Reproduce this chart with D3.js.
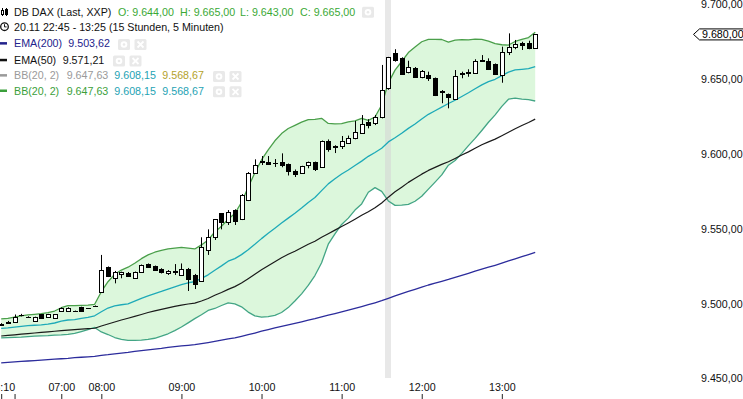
<!doctype html>
<html>
<head>
<meta charset="utf-8">
<script src="https://d3js.org/d3.v7.min.js"></script>
<style>
  body { margin: 0; background: #fff; }
  svg { display: block; }
  text { font-family: "Liberation Sans", Arial, sans-serif; font-size: 10.7px; }
</style>
</head>
<body>
<script>
// bar index of the first candle; 08:00 is bar 0 (5 minute bars)
const firstBar = -15;

const open = [
  9486.0, 9487.0, 9488.0, 9492.3, 9491.3, 9488.4, 9492.9, 9491.1, 9490.6, 9495.1, 9495.1, 9495.2, 9497.8, 9497.0, 9498.4,
  9508.0, 9524.5, 9517.0, 9519.9, 9520.7, 9517.3, 9521.4, 9526.5, 9525.2, 9522.9, 9520.2, 9521.2, 9519.5, 9523.3, 9519.2,
  9515.2, 9536.2, 9544.3, 9560.4, 9554.8, 9562.6, 9556.4, 9569.3, 9587.2, 9594.9, 9594.9, 9594.0, 9594.5, 9593.4, 9588.7,
  9587.2, 9592.4, 9594.4, 9591.2, 9608.8, 9605.7, 9605.7, 9607.6, 9610.6, 9614.3, 9621.7, 9620.6, 9625.0, 9644.0, 9667.4,
  9664.0, 9655.1, 9657.8, 9651.7, 9652.9, 9650.7, 9642.0, 9640.2, 9636.6, 9653.7, 9654.3, 9654.4, 9662.0, 9662.4, 9660.2,
  9652.9, 9668.4, 9671.8, 9674.1, 9674.1, 9670.7];
const high = [
  9487.0, 9488.5, 9492.8, 9493.2, 9491.6, 9491.3, 9493.0, 9493.2, 9493.1, 9497.5, 9497.6, 9495.4, 9498.0, 9497.1, 9498.8,
  9532.6, 9524.9, 9521.9, 9521.4, 9521.2, 9521.5, 9526.2, 9526.9, 9525.5, 9523.7, 9522.5, 9526.5, 9526.9, 9523.9, 9519.9,
  9544.4, 9549.7, 9556.6, 9560.6, 9562.6, 9563.1, 9573.3, 9588.0, 9596.5, 9598.7, 9598.7, 9596.7, 9600.5, 9593.7, 9589.7,
  9592.2, 9595.0, 9595.0, 9609.1, 9609.8, 9605.9, 9612.1, 9612.4, 9622.1, 9626.1, 9623.3, 9626.1, 9659.6, 9665.0, 9670.1,
  9664.7, 9662.4, 9658.2, 9656.2, 9655.1, 9651.2, 9642.8, 9640.5, 9656.2, 9655.1, 9656.7, 9663.4, 9666.2, 9664.0, 9660.6,
  9671.8, 9680.7, 9676.3, 9675.1, 9675.8, 9680.0];
const low = [
  9485.5, 9486.5, 9488.0, 9491.5, 9491.0, 9488.2, 9490.4, 9490.9, 9490.5, 9495.0, 9494.9, 9494.9, 9495.0, 9496.7, 9498.3,
  9507.8, 9517.8, 9513.6, 9517.0, 9518.2, 9517.0, 9521.2, 9524.0, 9522.3, 9520.2, 9519.2, 9519.2, 9518.5, 9508.5, 9509.8,
  9514.7, 9532.6, 9542.6, 9549.7, 9552.6, 9552.6, 9555.9, 9568.6, 9586.7, 9592.7, 9592.7, 9591.4, 9591.2, 9585.7, 9584.7,
  9587.0, 9590.5, 9588.7, 9591.0, 9601.6, 9600.7, 9603.4, 9607.2, 9609.9, 9613.9, 9617.2, 9619.4, 9623.9, 9643.0, 9661.8,
  9652.9, 9654.0, 9650.9, 9650.7, 9648.9, 9638.8, 9634.0, 9630.6, 9636.2, 9650.7, 9651.7, 9654.0, 9661.8, 9656.2, 9652.9,
  9647.7, 9666.2, 9670.1, 9669.6, 9670.1, 9670.6];
const close = [
  9486.5, 9488.0, 9490.8, 9492.5, 9491.2, 9491.1, 9490.6, 9492.9, 9492.9, 9497.3, 9497.3, 9495.0, 9495.1, 9496.8, 9498.6,
  9522.5, 9518.3, 9521.4, 9521.2, 9518.7, 9521.2, 9525.9, 9524.3, 9522.7, 9520.9, 9521.9, 9521.8, 9522.9, 9516.2, 9513.5,
  9538.2, 9544.6, 9556.3, 9554.8, 9561.5, 9555.5, 9572.7, 9587.2, 9592.7, 9595.6, 9593.2, 9593.8, 9592.7, 9588.7, 9586.7,
  9592.0, 9594.4, 9590.0, 9608.8, 9603.4, 9604.7, 9608.8, 9610.6, 9615.0, 9620.1, 9619.4, 9625.1, 9642.8, 9665.0, 9662.9,
  9653.5, 9658.4, 9651.3, 9655.7, 9650.7, 9639.5, 9641.5, 9638.4, 9652.2, 9654.2, 9654.9, 9662.4, 9662.6, 9656.7, 9653.3,
  9668.4, 9671.8, 9673.4, 9673.0, 9670.7, 9680.0];

const bbUpper = [
  9489.8, 9490.2, 9491.1, 9491.8, 9492.5, 9492.9, 9493.3, 9494.0, 9495.1, 9497.3, 9498.7, 9498.7, 9498.9, 9499.1, 9499.6,
  9508.0, 9514.7, 9519.7, 9522.5, 9524.4, 9527.0, 9530.1, 9532.6, 9534.4, 9535.6, 9536.6, 9537.1, 9537.6, 9537.1, 9536.6,
  9539.3, 9542.6, 9548.0, 9551.8, 9556.4, 9560.3, 9567.7, 9577.8, 9587.5, 9596.1, 9602.8, 9608.9, 9613.7, 9617.1, 9619.2,
  9621.4, 9623.1, 9623.2, 9623.9, 9620.5, 9620.2, 9620.4, 9621.6, 9622.2, 9623.9, 9622.5, 9624.8, 9632.8, 9647.63, 9656.1,
  9661.9, 9667.9, 9671.6, 9675.1, 9676.7, 9676.7, 9676.6, 9674.9, 9676.2, 9676.5, 9676.3, 9676.9, 9676.7, 9675.5, 9673.9,
  9673.1, 9672.9, 9675.3, 9676.7, 9677.9, 9681.4];
const bbMiddle = [
  9483.5, 9483.8, 9484.3, 9484.8, 9485.3, 9485.6, 9485.9, 9486.4, 9487.1, 9488.3, 9489.1, 9489.4, 9490.2, 9490.9, 9491.9,
  9494.6, 9497.1, 9498.6, 9499.3, 9499.9, 9501.7, 9503.6, 9505.2, 9506.8, 9508.2, 9509.8, 9511.3, 9512.8, 9514.0, 9514.8,
  9516.9, 9519.3, 9522.4, 9525.3, 9528.4, 9530.1, 9532.8, 9536.1, 9539.7, 9543.5, 9547.1, 9550.5, 9553.9, 9557.2, 9560.5,
  9564.0, 9567.7, 9571.0, 9575.6, 9580.1, 9583.5, 9586.7, 9589.4, 9592.4, 9595.3, 9598.5, 9601.1, 9603.9, 9608.15, 9610.9,
  9613.9, 9617.2, 9620.1, 9623.4, 9626.6, 9629.0, 9631.4, 9633.8, 9636.0, 9638.5, 9641.0, 9643.7, 9646.3, 9648.4, 9650.0,
  9652.5, 9654.8, 9656.3, 9656.7, 9657.1, 9658.5];
const bbLower = [
  9477.1, 9477.3, 9477.5, 9477.7, 9478.0, 9478.3, 9478.5, 9478.7, 9479.0, 9479.2, 9479.5, 9480.1, 9481.4, 9482.7, 9484.1,
  9481.1, 9479.4, 9477.4, 9476.1, 9475.5, 9475.5, 9475.7, 9476.1, 9476.9, 9478.3, 9479.9, 9482.0, 9484.4, 9487.2, 9490.0,
  9492.6, 9495.5, 9496.8, 9498.8, 9500.5, 9499.9, 9497.9, 9494.4, 9491.9, 9491.0, 9491.4, 9492.2, 9494.1, 9497.4, 9501.8,
  9506.6, 9512.2, 9518.8, 9527.4, 9539.8, 9546.7, 9553.0, 9557.2, 9562.6, 9566.7, 9574.5, 9577.6, 9575.1, 9568.67, 9565.7,
  9565.9, 9566.4, 9568.5, 9571.8, 9576.6, 9581.3, 9586.1, 9592.6, 9595.7, 9600.5, 9605.7, 9610.5, 9615.8, 9621.3, 9626.2,
  9631.9, 9636.7, 9637.4, 9636.8, 9636.4, 9635.5];
const ema50 = [
  9478.4, 9478.8, 9479.2, 9479.6, 9480.0, 9480.4, 9480.8, 9481.2, 9481.6, 9482.0, 9482.4, 9482.7, 9483.0, 9483.3, 9483.6,
  9485.1, 9486.4, 9487.8, 9489.1, 9490.3, 9491.5, 9492.8, 9494.1, 9495.2, 9496.2, 9497.2, 9498.2, 9499.1, 9499.8, 9500.4,
  9501.8, 9503.5, 9505.6, 9507.5, 9509.6, 9511.4, 9513.8, 9516.7, 9519.7, 9522.7, 9525.4, 9528.1, 9530.7, 9533.0, 9535.1,
  9537.4, 9539.7, 9541.7, 9544.4, 9546.8, 9549.2, 9551.6, 9554.0, 9556.5, 9559.1, 9561.5, 9564.1, 9567.3, 9571.21, 9574.8,
  9577.9, 9581.1, 9583.8, 9586.6, 9589.1, 9591.1, 9593.1, 9594.9, 9597.1, 9599.4, 9601.5, 9603.9, 9606.2, 9608.2, 9610.0,
  9612.3, 9614.6, 9616.9, 9619.1, 9621.1, 9623.4];
const ema200 = [
  9460.5, 9460.8, 9461.1, 9461.4, 9461.7, 9462.0, 9462.3, 9462.6, 9462.9, 9463.2, 9463.5, 9463.9, 9464.2, 9464.5, 9464.8,
  9465.4, 9465.9, 9466.5, 9467.0, 9467.5, 9468.1, 9468.7, 9469.2, 9469.7, 9470.2, 9470.8, 9471.3, 9471.8, 9472.2, 9472.6,
  9473.3, 9474.0, 9474.8, 9475.6, 9476.5, 9477.2, 9478.2, 9479.3, 9480.4, 9481.6, 9482.7, 9483.8, 9484.9, 9485.9, 9486.9,
  9487.9, 9489.0, 9490.0, 9491.2, 9492.3, 9493.4, 9494.6, 9495.7, 9496.9, 9498.1, 9499.3, 9500.6, 9502.0, 9503.62, 9505.2,
  9506.7, 9508.2, 9509.6, 9511.1, 9512.5, 9513.7, 9515.0, 9516.2, 9517.6, 9518.9, 9520.3, 9521.7, 9523.1, 9524.4, 9525.7,
  9527.1, 9528.6, 9530.0, 9531.4, 9532.8, 9534.3];

const tickBars = [-15, -13, -6, 0, 12, 24, 36, 48, 60];
const tickLabels = ["06:10", "", "07:00", "08:00", "09:00", "10:00", "11:00", "12:00", "13:00"];
const yTicks = [9450, 9500, 9550, 9600, 9650, 9700];
const hoverBar = 43;     // bar under the cursor, shown in the legend
const lastPrice = 9680;

const W = 743, H = 399;
const x = d3.scaleLinear().domain([firstBar, firstBar + open.length - 1]).range([1.2, 535.2]);
const y = d3.scaleLinear().domain([9450, 9700]).range([378.5, 4.5]);

const de = d3.formatLocale({decimal: ",", thousands: ".", grouping: [3], currency: ["", ""]});
const fmt = de.format(",.2f");

const bars = open.map((o, k) => ({
  i: k + firstBar, o: o, h: high[k], l: low[k], c: close[k],
  up: bbUpper[k], mid: bbMiddle[k], lo: bbLower[k], e50: ema50[k], e200: ema200[k]
}));

const svg = d3.select('body').append('svg')
  .attr('width', W).attr('height', H);

svg.append('clipPath').attr('id', 'plot')
  .append('rect').attr('x', 0).attr('y', 0).attr('width', 690).attr('height', 378);

const plot = svg.append('g').attr('clip-path', 'url(#plot)');

// bollinger band fill
plot.append('path')
  .datum(bars)
  .attr('d', d3.area().x(d => x(d.i)).y0(d => y(d.lo)).y1(d => y(d.up)))
  .attr('fill', '#dcf7dc');

// cursor column
const hx = Math.round(x(hoverBar));
plot.append('rect')
  .attr('x', hx - 3).attr('y', 0).attr('width', 6).attr('height', 378)
  .attr('fill', '#d6d6d6').attr('opacity', 0.55);

function drawLine(key, color, width) {
  plot.append('path')
    .datum(bars)
    .attr('d', d3.line().x(d => x(d.i)).y(d => y(d[key])))
    .attr('fill', 'none')
    .attr('stroke', color)
    .attr('stroke-width', width)
    .attr('stroke-linejoin', 'round');
}
drawLine('e200', '#2c2c9c', 1.3);
drawLine('lo', '#43a585', 1.3);
drawLine('mid', '#1eaab8', 1.3);
drawLine('up', '#4a9f4a', 1.3);
drawLine('e50', '#1a1a1a', 1.2);

// candles
const cg = plot.append('g');
bars.forEach(function (d) {
  const r = Math.round(x(d.i));
  cg.append('line')
    .attr('x1', r + 0.5).attr('x2', r + 0.5)
    .attr('y1', y(d.h)).attr('y2', y(d.l))
    .attr('stroke', '#000').attr('stroke-width', 1);
  const top = Math.round(y(Math.max(d.o, d.c)));
  let bot = Math.round(y(Math.min(d.o, d.c)));
  if (bot - top < 1) {
    cg.append('line')
      .attr('x1', r - 2).attr('x2', r + 3)
      .attr('y1', top + 0.5).attr('y2', top + 0.5)
      .attr('stroke', '#000');
    return;
  }
  cg.append('rect')
    .attr('x', r - 1.5).attr('y', top + 0.5)
    .attr('width', 4).attr('height', bot - top)
    .attr('fill', d.c >= d.o ? '#fff' : '#000')
    .attr('stroke', '#000').attr('stroke-width', 1);
});

// x axis (labels above the small ticks)
const xAxis = svg.append('g')
  .attr('transform', 'translate(0,394)')
  .call(d3.axisBottom(x).tickValues(tickBars).tickFormat((d, k) => tickLabels[k]).tickSize(5).tickSizeOuter(0));
xAxis.select('.domain').remove();
xAxis.selectAll('line').attr('stroke', '#222');
xAxis.selectAll('text')
  .attr('y', -3).attr('dy', 0)
  .attr('fill', '#111')
  .style('font-family', '"Liberation Sans", Arial, sans-serif')
  .style('font-size', '10.7px');

// y axis on the right
const yAxis = svg.append('g')
  .attr('transform', 'translate(701,0)')
  .call(d3.axisRight(y).tickValues(yTicks).tickFormat(fmt).tickSize(0).tickPadding(0));
yAxis.select('.domain').remove();
yAxis.selectAll('text')
  .attr('fill', '#111')
  .style('font-family', '"Liberation Sans", Arial, sans-serif')
  .style('font-size', '10.7px');

// last price marker
const ly = y(lastPrice);
svg.append('path')
  .attr('d', `M693.5,${ly} L699.5,${ly - 5.5} L745,${ly - 5.5} L745,${ly + 5.5} L699.5,${ly + 5.5} Z`)
  .attr('fill', '#fff').attr('stroke', '#000').attr('stroke-width', 1);
svg.append('text')
  .attr('x', 702).attr('y', ly).attr('dy', '0.35em')
  .attr('fill', '#000')
  .text(fmt(lastPrice));

// legend
const k = hoverBar - firstBar;
const lg = svg.append('g');
const green = '#3aa935', navy = '#23238c', teal = '#1fa3b4', grey = '#9a9a9a', olive = '#b4a22c', bbGreen = '#3b9f3b';

function legendText(xp, base, str, color) {
  lg.append('text').attr('x', xp).attr('y', base).attr('fill', color).text(str);
}
function button(xp, yc, kind) {
  lg.append('rect').attr('x', xp).attr('y', yc - 5.5).attr('width', 12).attr('height', 11)
    .attr('rx', 1.5).attr('fill', '#e9e9e9');
  if (kind === 'gear') {
    lg.append('circle').attr('cx', xp + 6).attr('cy', yc).attr('r', 3.3).attr('fill', '#fff');
    lg.append('circle').attr('cx', xp + 6).attr('cy', yc).attr('r', 1.3).attr('fill', '#e9e9e9');
  } else {
    lg.append('path').attr('d', `M${xp + 3},${yc - 3} L${xp + 9},${yc + 3} M${xp + 9},${yc - 3} L${xp + 3},${yc + 3}`)
      .attr('stroke', '#fff').attr('stroke-width', 1.8);
  }
}
function dash(yc, color) {
  lg.append('rect').attr('x', 0).attr('y', yc - 1.2).attr('width', 7).attr('height', 2.5).attr('fill', color);
}

// row 1: instrument
lg.append('line').attr('x1', 2.5).attr('x2', 2.5).attr('y1', 8).attr('y2', 16).attr('stroke', '#000');
lg.append('rect').attr('x', 1.5).attr('y', 10.5).attr('width', 2).attr('height', 4).attr('fill', '#fff').attr('stroke', '#000');
lg.append('line').attr('x1', 6.5).attr('x2', 6.5).attr('y1', 8).attr('y2', 16).attr('stroke', '#000');
lg.append('rect').attr('x', 5.5).attr('y', 9.5).attr('width', 2).attr('height', 5).attr('fill', '#000').attr('stroke', '#000');
legendText(14, 15.8, 'DB DAX (Last, XXP)', '#111');
legendText(118, 15.8, 'O: ' + fmt(open[k]), green);
legendText(180, 15.8, 'H: ' + fmt(high[k]), green);
legendText(240, 15.8, 'L: ' + fmt(low[k]), green);
legendText(300, 15.8, 'C: ' + fmt(close[k]), green);
button(362, 12.3, 'gear');

// row 2: period
lg.append('circle').attr('cx', 4.5).attr('cy', 26.7).attr('r', 3.8).attr('fill', 'none').attr('stroke', '#111').attr('stroke-width', 1.3);
lg.append('path').attr('d', 'M4.5,24.2 L4.5,26.9 L6.6,26.9').attr('fill', 'none').attr('stroke', '#111').attr('stroke-width', 1);
legendText(14, 30.5, '20.11 22:45 - 13:25 (15 Stunden, 5 Minuten)', '#111');

// row 3: EMA200
dash(43.3, navy);
legendText(14, 47.1, 'EMA(200)', navy);
legendText(68.3, 47.1, fmt(ema200[k]), navy);
button(118, 44.5, 'gear'); button(134.5, 44.5, 'x');

// row 4: EMA50
dash(60, '#111');
legendText(14, 63.8, 'EMA(50)', '#111');
legendText(62.7, 63.8, fmt(ema50[k]), '#111');
button(113, 61, 'gear'); button(129.5, 61, 'x');

// row 5 and 6: Bollinger bands
dash(75.3, grey);
legendText(14, 79.1, 'BB(20, 2)', grey);
legendText(66.7, 79.1, fmt(bbUpper[k]), grey);
legendText(114.3, 79.1, fmt(bbMiddle[k]), teal);
legendText(162.3, 79.1, fmt(bbLower[k]), olive);
button(213, 76.5, 'gear'); button(229.5, 76.5, 'x');

dash(90.7, bbGreen);
legendText(14, 94.5, 'BB(20, 2)', bbGreen);
legendText(66.7, 94.5, fmt(bbUpper[k]), bbGreen);
legendText(114.3, 94.5, fmt(bbMiddle[k]), teal);
legendText(162.3, 94.5, fmt(bbLower[k]), teal);
button(213, 91.8, 'gear'); button(229.5, 91.8, 'x');
</script>
</body>
</html>
